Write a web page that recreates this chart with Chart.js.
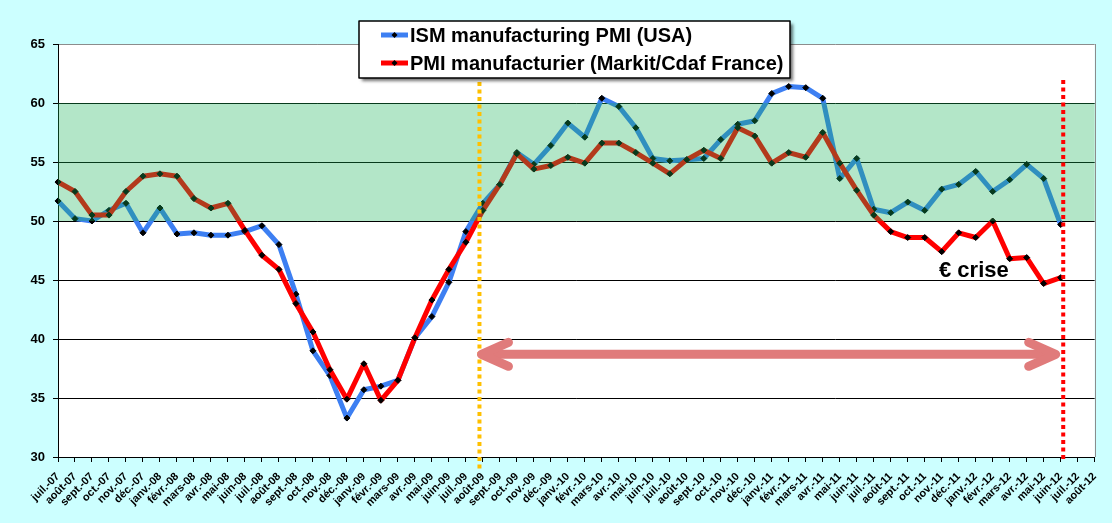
<!DOCTYPE html>
<html>
<head>
<meta charset="utf-8">
<script src="https://cdn.jsdelivr.net/npm/chart.js@4.4.1/dist/chart.umd.min.js"></script>
<style>
  html, body { margin: 0; padding: 0; background: #ccffff; }
  canvas { display: block; }
</style>
</head>
<body>
<canvas id="pmi" width="1112" height="523"></canvas>
<script>
// mois (juil. 2007 -> août 2012)
const months = [
  'juil.-07', 'août-07', 'sept.-07', 'oct.-07', 'nov.-07', 'déc.-07',
  'janv.-08', 'févr.-08', 'mars-08', 'avr.-08', 'mai-08', 'juin-08',
  'juil.-08', 'août-08', 'sept.-08', 'oct.-08', 'nov.-08', 'déc.-08',
  'janv.-09', 'févr.-09', 'mars-09', 'avr.-09', 'mai-09', 'juin-09',
  'juil.-09', 'août-09', 'sept.-09', 'oct.-09', 'nov.-09', 'déc.-09',
  'janv.-10', 'févr.-10', 'mars-10', 'avr.-10', 'mai-10', 'juin-10',
  'juil.-10', 'août-10', 'sept.-10', 'oct.-10', 'nov.-10', 'déc.-10',
  'janv.-11', 'févr.-11', 'mars-11', 'avr.-11', 'mai-11', 'juin-11',
  'juil.-11', 'août-11', 'sept.-11', 'oct.-11', 'nov.-11', 'déc.-11',
  'janv.-12', 'févr.-12', 'mars-12', 'avr.-12', 'mai-12', 'juin-12',
  'juil.-12', 'août-12'
];

// ISM manufacturing PMI (USA)
const ismUSA = [
  51.7, 50.2, 50.0, 50.9, 51.5, 49.0,
  51.1, 48.9, 49.0, 48.8, 48.8, 49.1,
  49.6, 48.0, 43.8, 39.0, 36.9, 33.3,
  35.7, 36.0, 36.5, 40.1, 41.9, 44.8,
  49.1, 51.5, 53.1, 55.8, 54.8, 56.4,
  58.3, 57.1, 60.4, 59.7, 57.9, 55.3,
  55.1, 55.2, 55.3, 56.9, 58.2, 58.5,
  60.8, 61.4, 61.3, 60.4, 53.6, 55.3,
  51.0, 50.7, 51.6, 50.9, 52.7, 53.1,
  54.2, 52.5, 53.5, 54.8, 53.6, 49.7
];

// PMI manufacturier (Markit/Cdaf France)
const pmiFrance = [
  53.3, 52.5, 50.5, 50.5, 52.5, 53.8,
  54.0, 53.8, 51.9, 51.1, 51.5, 49.2,
  47.1, 45.9, 43.0, 40.6, 37.4, 34.9,
  37.9, 34.8, 36.5, 40.1, 43.3, 45.9,
  48.2, 50.9, 53.1, 55.7, 54.4, 54.7,
  55.4, 54.9, 56.6, 56.6, 55.8, 54.9,
  54.0, 55.2, 56.0, 55.3, 57.9, 57.2,
  54.9, 55.8, 55.4, 57.5, 54.9, 52.6,
  50.5, 49.1, 48.6, 48.6, 47.4, 49.0,
  48.6, 50.0, 46.8, 46.9, 44.7, 45.2
];

// axe des y
const yMin = 30, yMax = 65, yStep = 5;
const zoneLow = 50, zoneHigh = 60;   // zone verte
const arrowLevel = 38.7;             // flèche "période"
const startIdx = 24.8, endIdx = 59.15;

const blue = '#3d7ff2';
const red = '#ff0000';

// fond + zone du graphique en blanc
const bgPlugin = {
  id: 'bg',
  beforeDraw(chart) {
    const { ctx, chartArea: a } = chart;
    ctx.save();
    ctx.fillStyle = '#ccffff';
    ctx.fillRect(0, 0, chart.width, chart.height);
    ctx.fillStyle = '#ffffff';
    ctx.fillRect(a.left, a.top, a.right - a.left, a.bottom - a.top);
    ctx.restore();
  },
  // bande verte transparente par dessus les courbes
  afterDatasetsDraw(chart) {
    const { ctx, chartArea: a, scales: { y } } = chart;
    const top = y.getPixelForValue(zoneHigh);
    const bot = y.getPixelForValue(zoneLow);
    ctx.save();
    ctx.fillStyle = 'rgba(21,178,86,0.325)';
    ctx.fillRect(a.left, top, a.right - a.left, bot - top);
    ctx.restore();
  }
};

function drawArrowHead(ctx, tipX, tipY, dir) {
  ctx.beginPath();
  ctx.moveTo(tipX + dir * 27, tipY - 12);
  ctx.lineTo(tipX, tipY);
  ctx.lineTo(tipX + dir * 27, tipY + 12);
  ctx.stroke();
}

const annotPlugin = {
  id: 'annot',
  afterDraw(chart) {
    const { ctx, chartArea: a, scales: { x, y } } = chart;
    ctx.save();

    // bord droit gris
    ctx.strokeStyle = '#8c8c8c';
    ctx.lineWidth = 1;
    ctx.beginPath();
    ctx.moveTo(Math.round(a.right) + 0.5, a.top);
    ctx.lineTo(Math.round(a.right) + 0.5, a.bottom);
    ctx.stroke();

    // lignes verticales pointillées
    const xs = x.getPixelForValue(startIdx);
    const xe = x.getPixelForValue(endIdx);
    ctx.lineWidth = 4;
    ctx.setLineDash([4, 3.5]);
    ctx.strokeStyle = '#ffc000';
    ctx.beginPath();
    ctx.moveTo(xs, 82);
    ctx.lineTo(xs, a.bottom + 12);
    ctx.stroke();
    ctx.strokeStyle = '#ff0000';
    ctx.beginPath();
    ctx.moveTo(xe, 80);
    ctx.lineTo(xe, a.bottom + 2);
    ctx.stroke();
    ctx.setLineDash([]);

    // flèche double
    const ay = y.getPixelForValue(arrowLevel);
    const ax1 = xs, ax2 = x.getPixelForValue(59) - 3;
    ctx.strokeStyle = '#e07b7b';
    ctx.lineWidth = 9;
    ctx.lineCap = 'round';
    ctx.lineJoin = 'round';
    ctx.beginPath();
    ctx.moveTo(ax1 + 4, ay);
    ctx.lineTo(ax2 - 4, ay);
    ctx.stroke();
    drawArrowHead(ctx, ax1 + 2, ay, 1);
    drawArrowHead(ctx, ax2 - 2, ay, -1);

    // texte
    ctx.fillStyle = '#000000';
    ctx.font = 'bold 22px "Liberation Sans", Arial, sans-serif';
    ctx.textBaseline = 'middle';
    ctx.textAlign = 'left';
    ctx.fillText('€ crise', 939, 271);

    // légende
    const lx = 359, ly = 21, lw = 431, lh = 57;
    ctx.save();
    ctx.shadowColor = 'rgba(0,0,0,0.55)';
    ctx.shadowOffsetX = 3;
    ctx.shadowOffsetY = 3;
    ctx.shadowBlur = 3;
    ctx.fillStyle = '#ffffff';
    ctx.fillRect(lx, ly, lw, lh);
    ctx.restore();
    ctx.strokeStyle = '#000000';
    ctx.lineWidth = 1.5;
    ctx.strokeRect(lx, ly, lw, lh);

    const items = [
      ['ISM manufacturing PMI (USA)', blue, 35],
      ['PMI manufacturier (Markit/Cdaf France)', red, 63]
    ];
    ctx.font = 'bold 20px "Liberation Sans", Arial, sans-serif';
    items.forEach(([txt, col, ry]) => {
      ctx.strokeStyle = col;
      ctx.lineWidth = 5;
      ctx.lineCap = 'butt';
      ctx.beginPath();
      ctx.moveTo(381, ry);
      ctx.lineTo(408, ry);
      ctx.stroke();
      ctx.fillStyle = '#000000';
      ctx.beginPath();
      ctx.moveTo(394.5, ry - 3);
      ctx.lineTo(397.5, ry);
      ctx.lineTo(394.5, ry + 3);
      ctx.lineTo(391.5, ry);
      ctx.closePath();
      ctx.fill();
      ctx.fillText(txt, 410, ry + 1);
    });

    ctx.restore();
  }
};

const lineStyle = {
  borderWidth: 5,
  tension: 0,
  borderJoinStyle: 'round',
  borderCapStyle: 'round',
  pointStyle: 'rectRot',
  pointRadius: 3,
  pointBackgroundColor: '#000000',
  pointBorderColor: '#000000',
  pointBorderWidth: 1,
  fill: false
};

new Chart(document.getElementById('pmi'), {
  type: 'line',
  data: {
    labels: months,
    datasets: [
      { label: 'ISM manufacturing PMI (USA)', data: ismUSA, borderColor: blue, order: 1, ...lineStyle },
      { label: 'PMI manufacturier (Markit/Cdaf France)', data: pmiFrance, borderColor: red, order: 0, ...lineStyle }
    ]
  },
  options: {
    responsive: false,
    animation: false,
    events: [],
    layout: { padding: { top: 44, right: 16, left: 0, bottom: 0 } },
    plugins: {
      legend: { display: false },
      tooltip: { enabled: false }
    },
    scales: {
      x: {
        offset: false,
        afterFit: (s) => { s.height = 66; },
        grid: {
          drawOnChartArea: false,
          drawTicks: true,
          tickLength: 5,
          tickColor: '#000000'
        },
        border: { display: true, color: '#000000', width: 1 },
        ticks: {
          autoSkip: false,
          maxRotation: 45,
          minRotation: 45,
          padding: 8,
          color: '#000000',
          font: { family: '"Liberation Sans", Arial, sans-serif', size: 11, weight: 'bold' }
        }
      },
      y: {
        min: yMin,
        max: yMax,
        afterFit: (s) => { s.width = 58; },
        grid: {
          color: (c) => (c.tick && c.tick.value === yMax ? '#8c8c8c' : '#000000'),
          lineWidth: 1,
          drawTicks: true,
          tickLength: 5,
          tickColor: '#000000'
        },
        border: { display: true, color: '#000000', width: 1 },
        ticks: {
          stepSize: yStep,
          padding: 8,
          color: '#000000',
          font: { family: '"Liberation Sans", Arial, sans-serif', size: 13, weight: 'bold' }
        }
      }
    }
  },
  plugins: [bgPlugin, annotPlugin]
});
</script>
</body>
</html>
